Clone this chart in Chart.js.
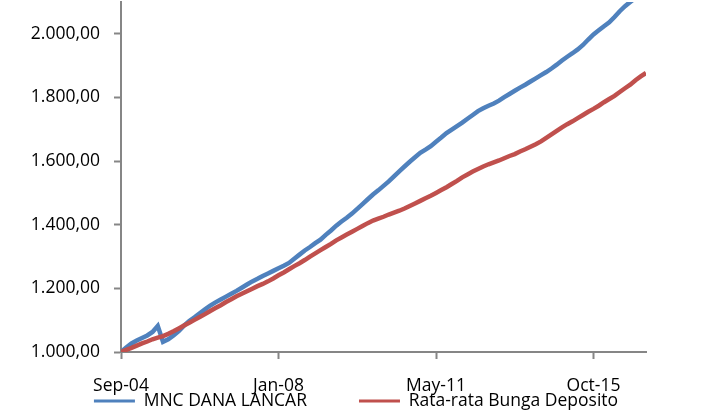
<!DOCTYPE html>
<html>
<head>
<meta charset="utf-8">
<script src="https://cdn.jsdelivr.net/npm/chart.js@4.4.1/dist/chart.umd.min.js"></script>
<style>
  html, body { margin: 0; padding: 0; background: #fff; }
  #grafico { display: block; }
</style>
</head>
<body>
<canvas id="grafico" width="712" height="412"></canvas>
<script>
// etiquetas del eje x (posicion en la serie) y ticks del eje y
const xTickIdx = [0, 30, 60, 90];
const xTickLabels = ['Sep-04', 'Jan-08', 'May-11', 'Oct-15'];
const yTicks = [1000, 1200, 1400, 1600, 1800, 2000];

const nombreMnc = 'MNC DANA LANCAR';
const nombreDeposito = 'Rata-rata Bunga Deposito';

// valores, un punto por paso
const nilaiMnc = [
  1000, 1014, 1027, 1036, 1044, 1052, 1063, 1082, 1032, 1040,
  1052, 1066, 1083, 1097, 1109, 1122, 1134, 1146, 1156, 1165,
  1174, 1183, 1192, 1202, 1212, 1222, 1230, 1239, 1247, 1255,
  1263, 1271, 1280, 1293, 1306, 1319, 1330, 1342, 1353, 1368,
  1382, 1397, 1410, 1422, 1435, 1450, 1465, 1480, 1495, 1508,
  1522, 1536, 1552, 1568, 1583, 1598, 1612, 1626, 1636, 1647,
  1661, 1674, 1688, 1699, 1710, 1721, 1733, 1745, 1757, 1766,
  1774, 1781, 1790, 1801, 1811, 1821, 1831, 1840, 1850, 1860,
  1870, 1880, 1891, 1903, 1916, 1928, 1939, 1951, 1965, 1982,
  1998, 2011, 2024, 2036, 2053, 2071, 2087, 2100, 2113, 2127, 2140
];
const nilaiDeposito = [
  1000, 1007, 1013, 1020, 1027, 1033, 1040, 1045, 1050, 1057,
  1065, 1074, 1083, 1092, 1101, 1110, 1119, 1129, 1138, 1147,
  1157, 1166, 1175, 1183, 1191, 1199, 1207, 1214, 1222, 1231,
  1241, 1250, 1260, 1270, 1279, 1289, 1300, 1310, 1320, 1330,
  1340, 1351, 1360, 1369, 1378, 1387, 1396, 1405, 1413, 1419,
  1425, 1432, 1438, 1444, 1451, 1459, 1467, 1475, 1483, 1491,
  1500, 1509, 1518, 1528, 1538, 1549, 1558, 1567, 1575, 1583,
  1590, 1596, 1602, 1609, 1616, 1622, 1630, 1637, 1645, 1653,
  1662, 1673, 1684, 1695, 1706, 1716, 1725, 1735, 1745, 1755,
  1764, 1774, 1785, 1795, 1805, 1817, 1829, 1840, 1854, 1866, 1877
];

const gris = '#868686';
const fuente = { family: "'Open Sans', sans-serif", size: 17.5 };

//formato 1.000,00
function formato(v) {
  const miles = Math.floor(v / 1000);
  const resto = String(v % 1000).padStart(3, '0');
  return miles + '.' + resto + ',00';
}

function aPuntos(arr) {
  return arr.map((v, i) => ({ x: i, y: v }));
}

// la leyenda usa padding grande para separar items, se sube el borde de arriba despues del layout
const ajusteLeyenda = {
  id: 'ajusteLeyenda',
  afterInit(chart) {
    const lg = chart.legend;
    const fitOrig = lg.fit;
    lg.fit = function () {
      fitOrig.call(this);
      this.height = 17;
    };
  },
  afterLayout(chart) {
    const lg = chart.legend;
    const subir = lg.options.labels.padding + fuente.size / 2 - 6;
    lg.top -= subir;
    lg.height = lg.bottom - lg.top;
  }
};

const canvasGrafico = document.getElementById('grafico');
new Chart(canvasGrafico, {
  type: 'line',
  data: {
    datasets: [{
      label: nombreMnc,
      data: aPuntos(nilaiMnc),
      borderColor: '#4F81BD',
      borderWidth: 4.5,
      pointRadius: 0,
      tension: 0,
      order: 1
    }, {
      label: nombreDeposito,
      data: aPuntos(nilaiDeposito),
      borderColor: '#C0504D',
      borderWidth: 4.5,
      pointRadius: 0,
      tension: 0,
      order: 0
    }]
  },
  options: {
    responsive: false,
    animation: false,
    devicePixelRatio: 1,
    layout: { padding: { top: 2, left: 0, right: 0, bottom: 0 } },
    plugins: {
      tooltip: { enabled: false },
      legend: {
        position: 'bottom',
        labels: {
          boxWidth: 41,
          boxHeight: 3,
          padding: 52,
          color: '#000',
          font: fuente,
          generateLabels: (chart) => chart.data.datasets.map((ds, i) => ({
            text: ds.label,
            fillStyle: ds.borderColor,
            strokeStyle: ds.borderColor,
            lineWidth: 0,
            fontColor: '#000',
            hidden: false,
            datasetIndex: i
          }))
        }
      }
    },
    scales: {
      x: {
        type: 'linear',
        min: 0,
        max: nilaiMnc.length - 1,
        afterBuildTicks: (scale) => { scale.ticks = xTickIdx.map(v => ({ value: v })); },
        afterFit: (scale) => {
          scale.height = 43;
          scale.paddingLeft = 0;
          scale.paddingRight = 66;
        },
        ticks: {
          color: '#000',
          font: fuente,
          padding: 17,
          maxRotation: 0,
          autoSkip: false,
          callback: (v) => xTickLabels[xTickIdx.indexOf(v)]
        },
        grid: { drawOnChartArea: false, tickLength: 7, tickColor: gris, tickWidth: 2 },
        border: { color: gris, width: 2 }
      },
      y: {
        min: 1000,
        max: 2100,
        afterBuildTicks: (scale) => { scale.ticks = yTicks.map(v => ({ value: v })); },
        afterFit: (scale) => {
          scale.width = 121;
          scale.paddingTop = 0;
          scale.paddingBottom = 0;
        },
        ticks: {
          color: '#000',
          font: fuente,
          padding: 14,
          callback: (v) => formato(v)
        },
        grid: { drawOnChartArea: false, tickLength: 7, tickColor: gris, tickWidth: 2 },
        border: { color: gris, width: 2 }
      }
    }
  },
  plugins: [ajusteLeyenda]
});
</script>
</body>
</html>
